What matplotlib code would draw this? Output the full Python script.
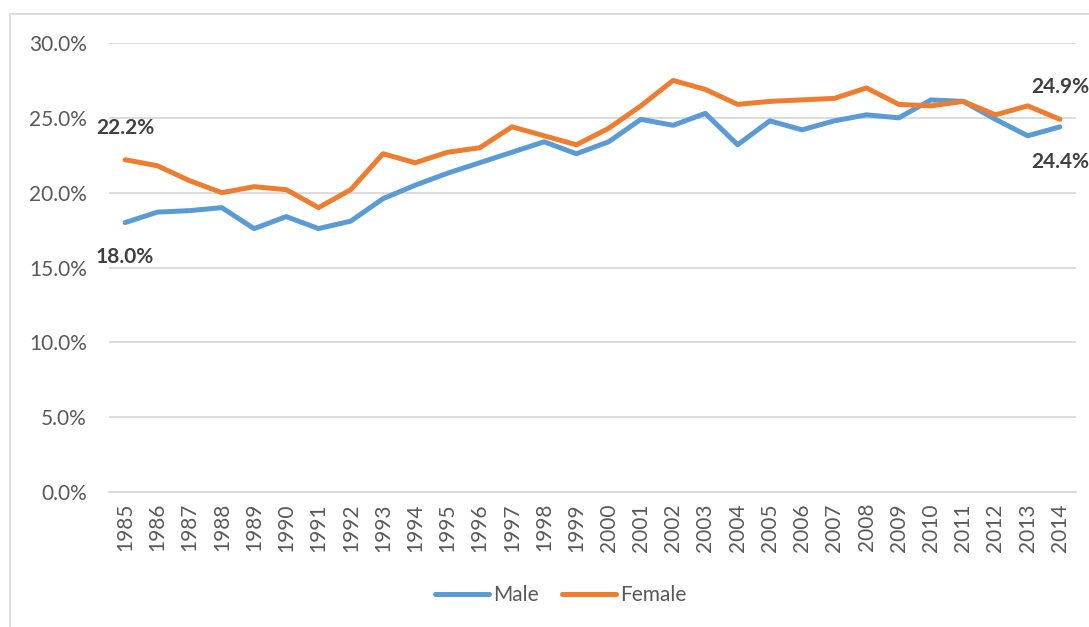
import matplotlib.pyplot as plt
from matplotlib.lines import Line2D
from matplotlib.ticker import PercentFormatter

plt.rcParams['font.family'] = ['Lato', 'DejaVu Sans']

years = list(range(1985, 2015))
male = [18.0, 18.7, 18.8, 19.0, 17.6, 18.4, 17.6, 18.1, 19.6, 20.5,
        21.3, 22.0, 22.7, 23.4, 22.6, 23.4, 24.9, 24.5, 25.3, 23.2,
        24.8, 24.2, 24.8, 25.2, 25.0, 26.2, 26.1, 24.9, 23.8, 24.4]
female = [22.2, 21.8, 20.8, 20.0, 20.4, 20.2, 19.0, 20.2, 22.6, 22.0,
          22.7, 23.0, 24.4, 23.8, 23.2, 24.3, 25.8, 27.5, 26.9, 25.9,
          26.1, 26.2, 26.3, 27.0, 25.9, 25.8, 26.1, 25.2, 25.8, 24.9]
yticks = [0, 5, 10, 15, 20, 25, 30]

blue = '#5B9BD5'
orange = '#ED7D31'
grid = '#D9D9D9'
tick_col = '#595959'
label_col = '#404040'
fs = 15

fig = plt.figure(figsize=(10.89, 6.27), dpi=100)
ax = fig.add_axes([0.1001, 0.2153, 0.888, 0.7161])

ax.plot(years, male, color=blue, lw=3.6, solid_capstyle='round', zorder=3)
ax.plot(years, female, color=orange, lw=3.6, solid_capstyle='round', zorder=3)

ax.set_xlim(1984.5, 2014.5)
ax.set_ylim(0, 30)
ax.set_yticks(yticks)
ax.yaxis.set_major_formatter(PercentFormatter(decimals=1))
ax.set_xticks(years)
ax.set_xticklabels([str(y) for y in years], rotation=90)
ax.tick_params(axis='both', length=0, labelsize=fs, colors=tick_col)
ax.tick_params(axis='y', pad=16)
ax.tick_params(axis='x', pad=8)

ax.grid(axis='y', color=grid, lw=1.3, zorder=0)
for side in ['top', 'right', 'left']:
    ax.spines[side].set_visible(False)
ax.spines['bottom'].set_color(grid)
ax.spines['bottom'].set_linewidth(1.3)

# end-point labels
def tag(x, y, above):
    ax.annotate(f'{y:.1f}%', (x, y), xytext=(0, 23 if above else -25),
                textcoords='offset points', ha='center', va='center',
                fontsize=fs, fontweight='bold', color=label_col,
                annotation_clip=False)

tag(years[0], female[0], True)
tag(years[0], male[0], False)
tag(years[-1], female[-1], True)
tag(years[-1], male[-1], False)

handles = [Line2D([], [], color=blue, lw=3.6, solid_capstyle='round'),
           Line2D([], [], color=orange, lw=3.6, solid_capstyle='round')]
leg = fig.legend(handles, ['Male', 'Female'], loc='center',
                 bbox_to_anchor=(0.515, 0.051), ncol=2, frameon=False,
                 fontsize=fs, handlelength=2.6, handletextpad=0.2,
                 columnspacing=1.1)
for t in leg.get_texts():
    t.set_color(tick_col)

# chart frame, left and top edges only
fig.add_artist(Line2D([0.0092, 0.0092], [0, 0.977], color=grid, lw=1.3))
fig.add_artist(Line2D([0.0092, 1.0], [0.977, 0.977], color=grid, lw=1.3))

fig.savefig('out.png', dpi=100, facecolor='white')
